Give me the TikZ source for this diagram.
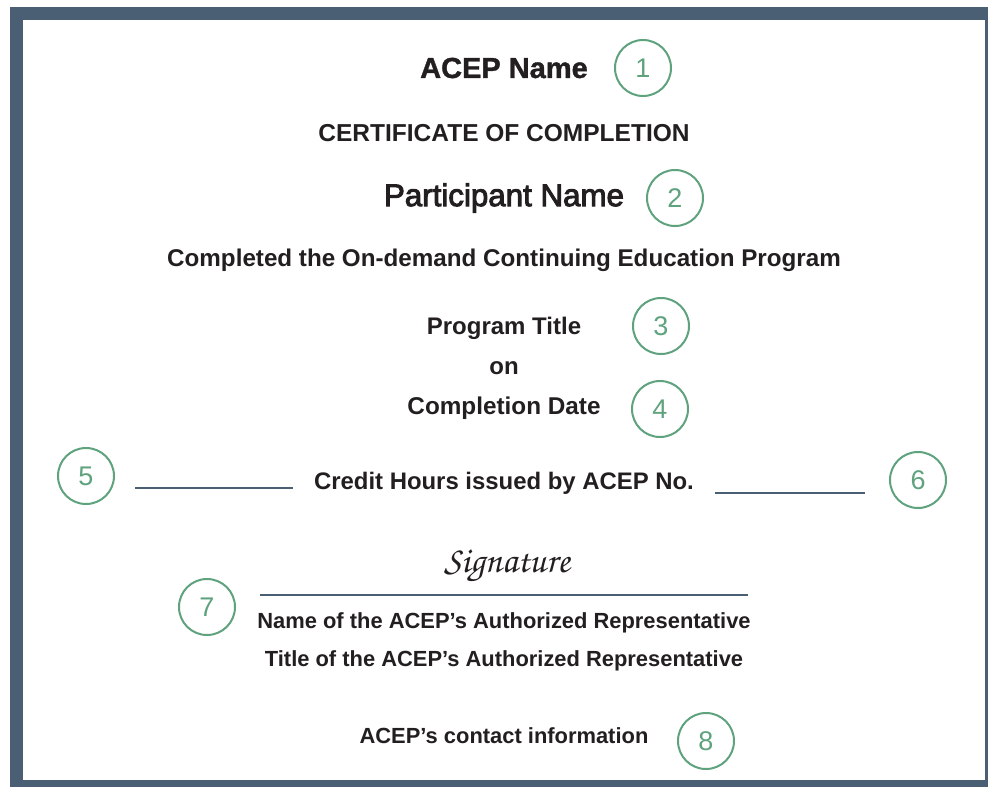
\documentclass[tikz,border=0pt]{standalone}
\usepackage{fontspec}
\setmainfont{Liberation Sans}
\newfontfamily\mediumfont{Liberation Sans}[FakeBold=3]
\newfontfamily\heavyfont{Liberation Sans Bold}[FakeBold=1.2]
\newcommand{\scriptsig}{\fontencoding{OT1}\fontfamily{pzc}\fontseries{mb}\fontshape{it}\selectfont}
\definecolor{framecol}{HTML}{4A5F74}
\definecolor{markcol}{HTML}{5FA27E}
\definecolor{inkcol}{HTML}{231F20}

\begin{document}
\begin{tikzpicture}[x=1pt, y=-1pt,
    marker/.style={circle, draw=markcol, line width=2pt, minimum size=56pt,
      inner sep=0pt, text=markcol, font=\fontsize{27}{27}\selectfont},
    blank/.style={draw=framecol, line width=2.5pt},
    line/.style={text=inkcol, inner sep=0pt, font=\bfseries\fontsize{#1}{#1}\selectfont}]

    % Fix the page to the reference size
    \useasboundingbox (0,0) rectangle (988,787);

    % Draw the frame
    \fill[framecol] (10,7) rectangle (988,787);
    \fill[white] (23,20) rectangle (985,780);

    % Header lines
    \node[line=30, font=\heavyfont\fontsize{29}{29}\selectfont] (acep) at (504,68) {ACEP Name};
    \node[line=24.5] (cert) at (504,133) {CERTIFICATE OF COMPLETION};
    \node[line=31.5, font=\mediumfont\fontsize{31.3}{31.3}\selectfont] (participant) at (504,198) {Participant Name};
    \node[line=24.2] (completed) at (504,260) {Completed the On-demand Continuing Education Program};

    % Program lines
    \node[line=24] (program) at (504,328) {Program Title};
    \node[line=24] (on) at (504,368) {on};
    \node[line=24.3] (date) at (504,408) {Completion Date};

    % Credit hours with the two blanks
    \node[line=23.9] (credit) at (504,483) {Credit Hours issued by ACEP No.};
    \coordinate (b1s) at (135,488);
    \coordinate (b1e) at (293,488);
    \coordinate (b2s) at (715,493);
    \coordinate (b2e) at (865,493);
    \draw[blank] (b1s) -- (b1e);
    \draw[blank] (b2s) -- (b2e);

    % Signature block
    \node[text=inkcol, font=\scriptsig\fontsize{37}{37}\selectfont] (sig) at (507,566) {Signature};
    \coordinate (s1) at (260,595);
    \coordinate (s2) at (748,595);
    \draw[blank] (s1) -- (s2);
    \node[line=21.9] (repname) at (504,623) {Name of the ACEP’s Authorized Representative};
    \node[line=21.9] (reptitle) at (504,661) {Title of the ACEP’s Authorized Representative};

    % Contact line
    \node[line=21.9] (contact) at (504,736) {ACEP’s contact information};

    % Numbered markers
    \node[marker] (m1) at (643,68) {1};
    \node[marker] (m2) at (675,198) {2};
    \node[marker] (m3) at (661,326) {3};
    \node[marker] (m4) at (660,409) {4};
    \node[marker] (m5) at (86,476) {5};
    \node[marker] (m6) at (918,480) {6};
    \node[marker] (m7) at (207,607) {7};
    \node[marker] (m8) at (706,741) {8};

\end{tikzpicture}
\end{document}
